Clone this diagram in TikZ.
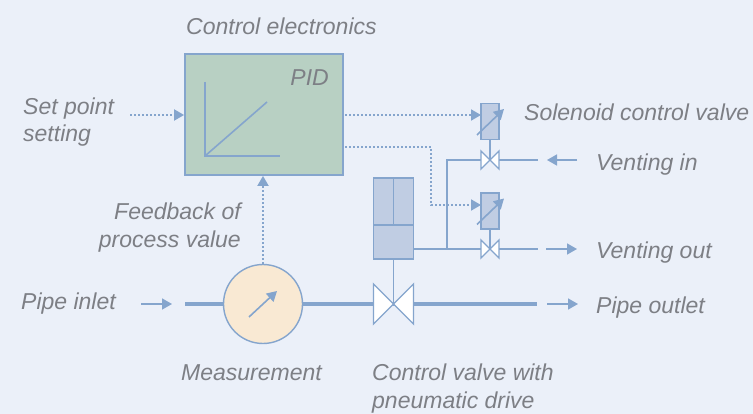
\documentclass[tikz,border=0pt]{standalone}
\usepackage{fontspec}
\setmainfont{Liberation Sans}
\usetikzlibrary{calc}
\usetikzlibrary{arrows.meta}
\definecolor{bgblue}{HTML}{EBF0F9}
\definecolor{lineblue}{HTML}{85A5CD}
\definecolor{boxblue}{HTML}{C0CDE3}
\definecolor{pidgreen}{HTML}{B8D0C3}
\definecolor{metercream}{HTML}{F9E9D3}
\definecolor{labelgray}{HTML}{7D7F85}
\tikzset{
    label text/.style={font=\fontsize{23}{26}\selectfont\itshape,text=labelgray,anchor=base west,align=left,inner sep=0pt},
    thin pipe/.style={draw=lineblue,line width=1.6pt},
    thick pipe/.style={draw=lineblue,line width=4pt},
    signal/.style={draw=lineblue,line width=1.9pt,dash pattern=on 1.7pt off 2.3pt},
    tip/.style={-{Triangle[length=10pt,width=11pt]}},
    flow/.style={thin pipe,tip},
    blue box/.style={draw=lineblue,fill=boxblue,line width=1.8pt,inner sep=0pt},
    valve pic/.pic={\draw[draw=lineblue,fill=white,line width=1.4pt] (-9,-9)--(9,9)--(9,-9)--(-9,9)--cycle;},
    big valve pic/.pic={\draw[draw=lineblue,fill=white,line width=1.4pt] (-20,-20)--(20,20)--(20,-20)--(-20,20)--cycle;}
}
\begin{document}
\begin{tikzpicture}[x=1pt,y=-1pt]
    \fill[bgblue] (0,0) rectangle (753,414);
    \useasboundingbox (0,0) rectangle (753,414);

    % controller
    \node[draw=lineblue,fill=pidgreen,line width=1.8pt,inner sep=0pt,minimum width=158pt,minimum height=121pt] (pid) at (264,114.5) {};
    \node[label text,anchor=base east] (pidlabel) at (329,86) {PID};
    \coordinate (origin) at (205,156);
    \coordinate (ytop) at (205,82);
    \coordinate (xend) at (280,156);
    \coordinate (ramp) at (267,102);
    \draw[thin pipe] (ytop)--(origin)--(xend);
    \draw[thin pipe] (origin)--(ramp);

    % pipe and meter
    \coordinate (pipestart) at (185,304);
    \coordinate (pipeend) at (537,304);
    \coordinate (cv) at (393.5,304);
    \draw[thick pipe] (pipestart)--(pipeend);
    \node[circle,draw=lineblue,fill=metercream,line width=1.4pt,inner sep=0pt,minimum size=79pt] (meter) at (263,304) {};
    \coordinate (needlestart) at (249,317);
    \coordinate (needleend) at (277,291);
    \draw[flow] (needlestart)--(needleend);
    \pic at (cv) {big valve pic};

    % drive
    \node[blue box,minimum width=40pt,minimum height=81pt] (cylinder) at (393.5,218.5) {};
    \coordinate (piston) at (373.5,225);
    \coordinate (pistonend) at (413.5,225);
    \coordinate (rod) at (393.5,225);
    \draw[draw=lineblue,line width=1.8pt] (piston)--(pistonend);
    \draw[draw=lineblue,line width=1.3pt] (cylinder.north)--(rod);
    \draw[thin pipe] (cylinder.south)--(cv);

    % solenoid valves
    \coordinate (valvein) at (490,160);
    \coordinate (valveout) at (490,249);
    \coordinate (tee) at (447,249);
    \coordinate (corner) at (447,160);
    \coordinate (invent) at (538,160);
    \coordinate (outvent) at (538,249);
    \coordinate (cylport) at (413.5,249);
    \coordinate (valveinleft) at (481,160);
    \coordinate (valveinright) at (499,160);
    \coordinate (valveoutleft) at (481,249);
    \coordinate (valveoutright) at (499,249);
    \pic at (valvein) {valve pic};
    \pic at (valveout) {valve pic};
    \draw[thin pipe] (cylport)--(valveoutleft);
    \draw[thin pipe] (valveoutright)--(outvent);
    \draw[thin pipe] (tee)--(corner)--(valveinleft);
    \draw[thin pipe] (valveinright)--(invent);
    \node[blue box,minimum width=18.5pt,minimum height=36pt] (solenoida) at (490,121.5) {};
    \node[blue box,minimum width=18.5pt,minimum height=36pt] (solenoidb) at (490,211) {};
    \draw[thin pipe] (solenoida.south)--(valvein);
    \draw[thin pipe] (solenoidb.south)--(valveout);
    \coordinate (stemastart) at (477,135);
    \coordinate (stemaend) at (504,109);
    \coordinate (stembstart) at (477,224.5);
    \coordinate (stembend) at (504,198.5);
    \draw[flow] (stemastart)--(stemaend);
    \draw[flow] (stembstart)--(stembend);

    % signals
    \coordinate (setstart) at (130,115);
    \coordinate (feedstart) at (263,264);
    \coordinate (outa) at (345,115);
    \coordinate (outb) at (345,147);
    \coordinate (bendb) at (431,147);
    \coordinate (bendc) at (431,205);
    \coordinate (ina) at (481,115);
    \coordinate (inb) at (481,205);
    \draw[signal,tip] (setstart)--(pid.west |- setstart);
    \draw[signal,tip] (feedstart)--(feedstart |- pid.south);
    \draw[signal,tip] (outa)--(ina);
    \draw[signal,tip] (outb)--(bendb)--(bendc)--(inb);

    % flow arrows
    \coordinate (inleta) at (141,304);
    \coordinate (inletb) at (172,304);
    \coordinate (outleta) at (547,304);
    \coordinate (outletb) at (578,304);
    \coordinate (ventina) at (577,160);
    \coordinate (ventinb) at (547,160);
    \coordinate (ventouta) at (546,249);
    \coordinate (ventoutb) at (577,249);
    \draw[flow] (inleta)--(inletb);
    \draw[flow] (outleta)--(outletb);
    \draw[flow] (ventina)--(ventinb);
    \draw[flow] (ventouta)--(ventoutb);

    % labels
    \node[label text] (title) at (186,35) {Control electronics};
    \node[label text] (setpoint) at (23,115) {Set point};
    \node[label text] (setpointb) at (23,142) {setting};
    \node[label text] (solenoid) at (524,121) {Solenoid control valve};
    \node[label text] (ventin) at (596,171) {Venting in};
    \node[label text] (ventout) at (596,259) {Venting out};
    \node[label text,anchor=base east] (feedback) at (241,220) {Feedback of};
    \node[label text,anchor=base east] (feedbackb) at (241,248) {process value};
    \node[label text] (inlet) at (21,310) {Pipe inlet};
    \node[label text] (outlet) at (596,314) {Pipe outlet};
    \node[label text] (measure) at (181,380) {Measurement};
    \node[label text] (cvlabel) at (372,380) {Control valve with};
    \node[label text] (cvlabelb) at (372,408) {pneumatic drive};
\end{tikzpicture}
\end{document}
